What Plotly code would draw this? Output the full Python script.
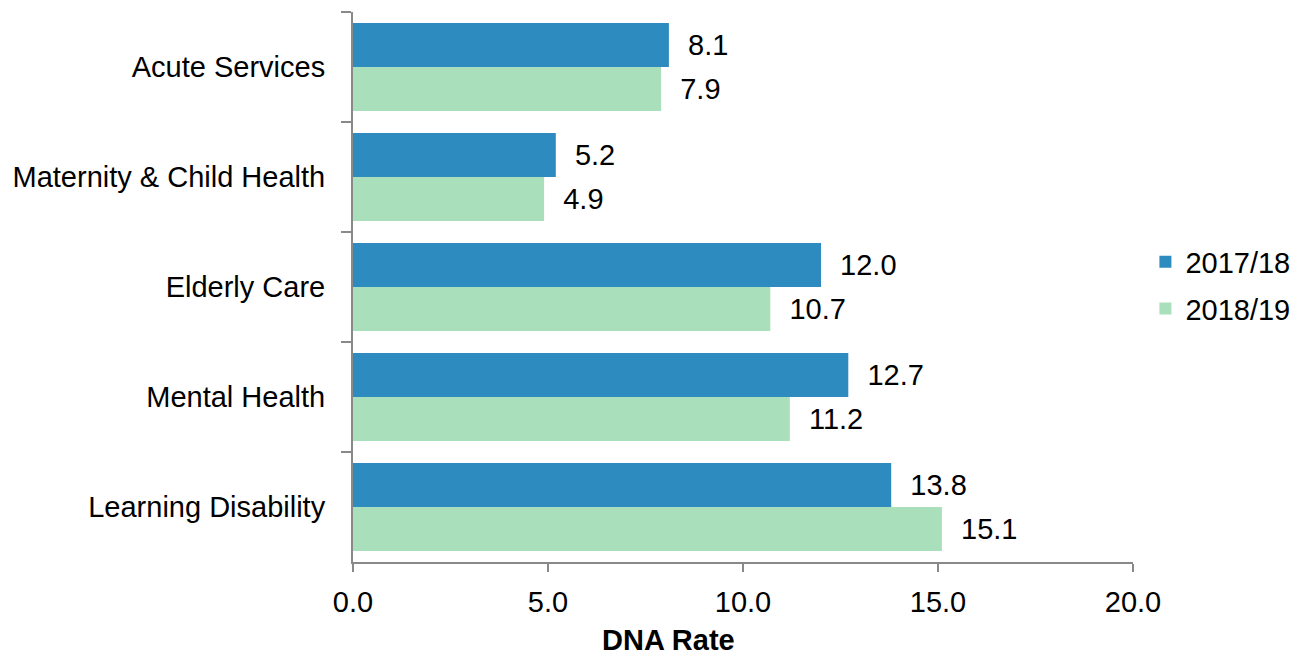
import plotly.graph_objects as go

categories = ["Acute Services", "Maternity & Child Health", "Elderly Care", "Mental Health", "Learning Disability"]
series_names = ["2017/18", "2018/19"]
values_2017 = [8.1, 5.2, 12.0, 12.7, 13.8]
values_2018 = [7.9, 4.9, 10.7, 11.2, 15.1]
x_ticks = [0, 5, 10, 15, 20]
x_tick_labels = ["0.0", "5.0", "10.0", "15.0", "20.0"]
x_title = "DNA Rate"

colors = ["#2E8BC0", "#A9DFBA"]
font = "Liberation Sans, Arial, sans-serif"
FS = 29

fig = go.Figure()
for name, vals, col in zip(series_names, [values_2017, values_2018], colors):
    fig.add_trace(go.Bar(
        y=categories, x=vals, name=name, orientation="h", legendgroup=name,
        marker=dict(color=col, line=dict(width=0)),
        text=[f"\u00a0\u00a0{v:.1f}" for v in vals], textposition="outside",
        textfont=dict(size=FS, color="#000000", family=font),
        cliponaxis=False,
    ))

fig.add_annotation(text=f"<b>{x_title}</b>", xref="paper", yref="paper",
                   x=0.404, y=-0.1418, xanchor="center", yanchor="middle",
                   showarrow=False, font=dict(size=FS, family=font, color="#000000"))

fig.update_layout(
    barmode="group", bargap=0.2, bargroupgap=0,
    width=1298, height=655,
    margin=dict(l=353, r=165, t=12, b=93, autoexpand=False),
    paper_bgcolor="white", plot_bgcolor="white",
    font=dict(family=font, size=FS, color="#000000"),
    uniformtext=dict(minsize=FS, mode="show"),
    legend=dict(x=0.998, y=0.503, xanchor="right", yanchor="middle",
                xref="container",
                traceorder="grouped", font=dict(size=FS), itemwidth=30,
                tracegroupgap=6),
    xaxis=dict(range=[0, 20], tickvals=x_ticks, ticktext=x_tick_labels,
               showgrid=False, zeroline=False, showline=True,
               linecolor="#898989", linewidth=2, ticks="outside", ticklen=8,
               tickcolor="#898989", tickwidth=2,
               ticklabelstandoff=5),
    yaxis=dict(autorange="reversed", showgrid=False, showline=True,
               linecolor="#898989", linewidth=2, ticks="outside", ticklen=10,
               tickcolor="#898989", tickwidth=2, tickson="boundaries",
               ticklabelstandoff=20),
)

fig.write_html("out.html")
